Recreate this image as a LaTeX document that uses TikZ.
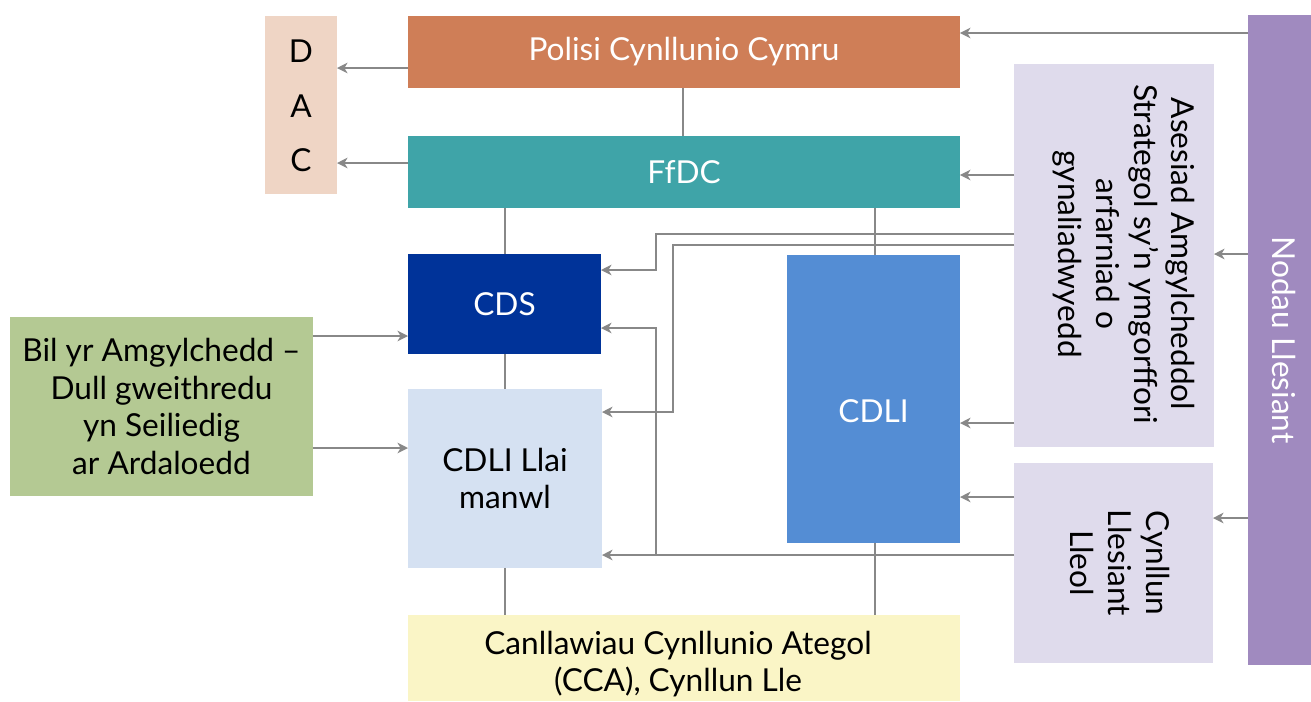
\documentclass[tikz,border=0pt]{standalone}
\usepackage{fontspec}
\setmainfont{Lato}
\usetikzlibrary{arrows.meta}
\definecolor{cdac}{HTML}{EFD5C5}
\definecolor{cpol}{HTML}{CF7E57}
\definecolor{cffdc}{HTML}{3FA4A8}
\definecolor{ccds}{HTML}{003399}
\definecolor{cllai}{HTML}{D5E1F2}
\definecolor{ccdli}{HTML}{548DD4}
\definecolor{ccca}{HTML}{FAF5C6}
\definecolor{cbil}{HTML}{B4C993}
\definecolor{cases}{HTML}{DFDBEC}
\definecolor{cnod}{HTML}{A08ABF}
\definecolor{lgray}{HTML}{888888}
\begin{document}
\begin{tikzpicture}[x=0.02cm,y=-0.02cm,
  box/.style={draw=none, inner sep=0pt, outer sep=0pt, align=center, font=\fontsize{18}{21.5}\selectfont},
  txt/.style={inner sep=0pt, align=center, font=\fontsize{18}{21.5}\selectfont},
  rot/.style={txt, rotate=-90},
  ln/.style={draw=lgray, line width=0.85pt},
  arr/.style={ln, -{Stealth[length=6pt,width=6pt,inset=1.8pt]}}]
\useasboundingbox (0,0) rectangle (1311,701);
% boxes
\node[box, fill=cdac, minimum width=1.44cm, minimum height=3.56cm] (dac) at (301,105) {};
\node[txt, font=\fontsize{18}{31}\selectfont] (dact) at (301,106) {D\\A\\C};
\node[box, fill=cpol, text=white, minimum width=11.04cm, minimum height=1.44cm] (pol) at (684,52) {Polisi Cynllunio Cymru};
\node[box, fill=cffdc, text=white, minimum width=11.04cm, minimum height=1.44cm] (ffdc) at (684,172) {FfDC};
\node[box, fill=ccds, text=white, minimum width=3.86cm, minimum height=2.0cm] (cds) at (504.5,304) {CDS};
\node[box, fill=cllai, minimum width=3.88cm, minimum height=3.58cm] (llai) at (505,478.5) {CDLI Llai\\manwl};
\node[box, fill=ccdli, minimum width=3.46cm, minimum height=5.76cm] (cdli) at (873.5,399) {};
\node[txt, text=white] (cdlit) at (873.5,411) {CDLI};
\node[box, fill=ccca, minimum width=11.04cm, minimum height=1.72cm] (cca) at (684,658) {};
\node[txt] (ccat) at (678,664) {Canllawiau Cynllunio Ategol\\(CCA), Cynllun Lle};
\node[box, fill=cbil, minimum width=6.06cm, minimum height=3.58cm] (bil) at (161.5,406.5) {Bil yr Amgylchedd --\\Dull gweithredu\\yn Seiliedig\\ar Ardaloedd};
\node[box, fill=cases, minimum width=4.0cm, minimum height=7.66cm] (ases) at (1114,255.5) {};
\node[rot] (asest) at (1124,254) {Asesiad Amgylcheddol\\Strategol sy’n ymgorffori\\arfarniad o\\gynaliadwyedd};
\node[box, fill=cases, minimum width=3.98cm, minimum height=4.0cm] (cyn) at (1113.5,563) {};
\node[rot] (cynt) at (1120,563) {Cynllun\\Llesiant\\Lleol};
\node[box, fill=cnod, minimum width=1.26cm, minimum height=13.0cm] (nod) at (1279.5,340) {};
\node[rot, text=white] (nodt) at (1284,340) {Nodau Llesiant};
% junction coordinates
\coordinate (j1) at (656,234);
\coordinate (j2) at (656,270);
\coordinate (j3) at (673,245);
\coordinate (j4) at (673,412);
\coordinate (j5) at (656,555);
\coordinate (j6) at (656,328);
% plain connectors
\draw[ln] (pol.south -| 683,0) -- (ffdc.north -| 683,0);
\draw[ln] (ffdc.south -| 505,0) -- (cds.north -| 505,0);
\draw[ln] (cds.south -| 505,0) -- (llai.north -| 505,0);
\draw[ln] (llai.south -| 505,0) -- (cca.north -| 505,0);
\draw[ln] (ffdc.south -| 875,0) -- (cdli.north -| 875,0);
\draw[ln] (cdli.south -| 875,0) -- (cca.north -| 875,0);
% arrows
\draw[arr] (nod.west |- 0,33) -- (pol.east |- 0,33);
\draw[arr] (nod.west |- 0,254) -- (ases.east |- 0,254);
\draw[arr] (nod.west |- 0,518) -- (cyn.east |- 0,518);
\draw[arr] (ases.west |- 0,175) -- (ffdc.east |- 0,175);
\draw[arr] (ases.west |- 0,423) -- (cdli.east |- 0,423);
\draw[arr] (cyn.west |- 0,497) -- (cdli.east |- 0,497);
\draw[arr] (ases.west |- j1) -- (j1) -- (j2) -- (cds.east |- j2);
\draw[arr] (ases.west |- j3) -- (j3) -- (j4) -- (llai.east |- j4);
\draw[arr] (cyn.west |- j5) -- (llai.east |- j5);
\draw[arr] (j5) -- (j6) -- (cds.east |- j6);
\draw[arr] (pol.west |- 0,68) -- (dac.east |- 0,68);
\draw[arr] (ffdc.west |- 0,163) -- (dac.east |- 0,163);
\draw[arr] (bil.east |- 0,336) -- (cds.west |- 0,336);
\draw[arr] (bil.east |- 0,448) -- (llai.west |- 0,448);
\end{tikzpicture}
\end{document}
